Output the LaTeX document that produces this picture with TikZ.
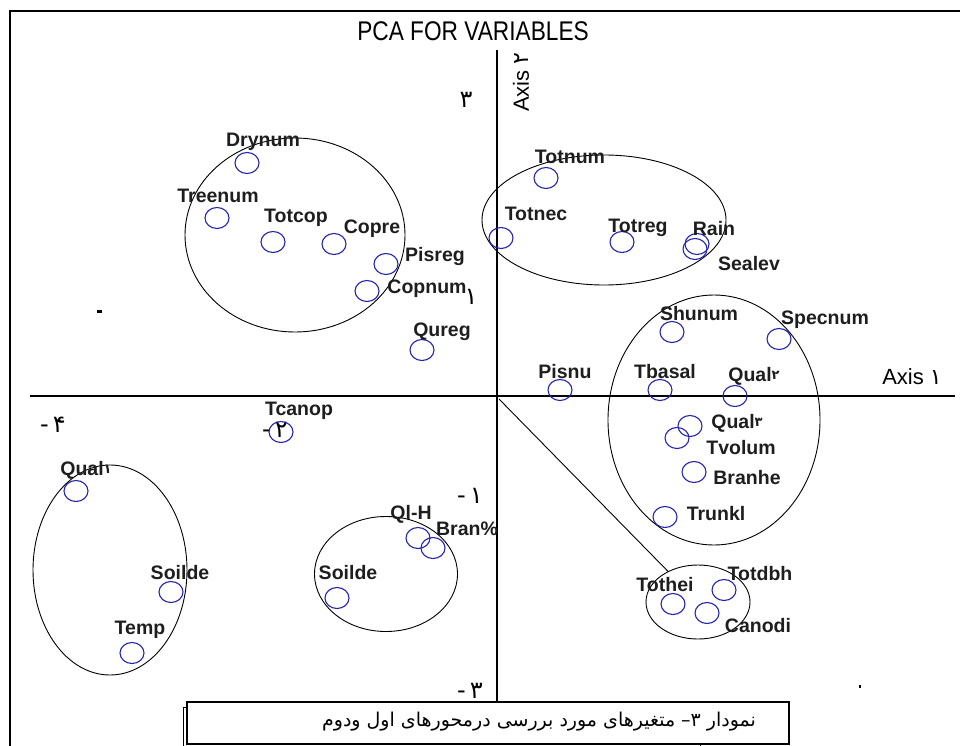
\documentclass[tikz,border=0pt]{standalone}
\usepackage{fontspec}
\setmainfont{Liberation Sans}
\newfontfamily\arabicfont[Script=Arabic]{DejaVu Sans}
\newfontfamily\digitfont{DejaVu Sans}
\TeXXeTstate=1
\usetikzlibrary{shapes.geometric}
\definecolor{ptblue}{RGB}{35,35,175}
\definecolor{lblcol}{RGB}{30,30,30}
\tikzset{
  pt/.style={draw=ptblue, line width=1.1pt, ellipse, minimum width=24pt, minimum height=21pt, inner sep=0pt},
  lbl/.style={font=\fontsize{19.5}{21}\selectfont\bfseries, inner sep=0pt, text=lblcol},
  grp/.style={draw=black, line width=0.9pt, ellipse, inner sep=0pt},
  tick/.style={font=\digitfont\fontsize{24}{26}\selectfont, inner sep=0pt},
  axlbl/.style={font=\fontsize{22}{24}\selectfont, inner sep=0pt},
  axisline/.style={draw=black, line width=1.2pt},
}
\newcommand{\pd}[1]{\raisebox{2pt}{\digitfont\fontsize{13}{14}\selectfont #1}}
\begin{document}
\begin{tikzpicture}[x=1pt,y=-1pt]
\useasboundingbox (0,0) rectangle (960,746);
\fill[white] (0,0) rectangle (960,746);
% frame
\coordinate (fbl) at (10,746);
\coordinate (ftl) at (10,11);
\coordinate (ftr) at (960,11);
\draw[line width=1.1pt] (fbl) -- (ftl) -- (ftr);
% title
\node[inner sep=0pt] (title) at (473,31) {\scalebox{0.84}[1]{\fontsize{27}{29}\selectfont PCA FOR VARIABLES}};
% axes
\coordinate (xl) at (30,396);
\coordinate (xr) at (955,396);
\coordinate (yt) at (497,50);
\coordinate (yb) at (497,702);
\coordinate (orig) at (499,399);
\draw[axisline] (xl) -- (xr);
\draw[axisline] (yt) -- (yb);
\node[axlbl] (ax1) at (912,377) {Axis \digitfont ۱};
\node[axlbl, rotate=90] (ax2) at (521,82) {Axis \digitfont ۲};
% ticks
\node[tick] (t3) at (466,100) {۳};
\node[tick] (tm4) at (53,425) {-\,۴};
\node[tick] (tm1) at (470,496) {-\,۱};
\node[tick] (tm3) at (470,691) {-\,۳};
\node[tick] (t1) at (471,297) {۱};
\node[tick] (tm2) at (275,430) {-\,۲};
\fill (97,310) rectangle (102,313);
\fill (496,425) rectangle (498,429);
\fill (859,685) rectangle (861,688);
% group ellipses
\node[grp, minimum width=220pt, minimum height=194pt] (g1) at (295,235) {};
\node[grp, minimum width=244pt, minimum height=130pt] (g2) at (604,220) {};
\node[grp, minimum width=212pt, minimum height=250pt] (g3) at (714,420) {};
\node[grp, minimum width=154pt, minimum height=210pt] (g4) at (110,570) {};
\node[grp, minimum width=143pt, minimum height=115pt] (g5) at (386,574) {};
\node[grp, minimum width=104pt, minimum height=74pt] (g6) at (698,602) {};
\draw[line width=0.9pt] (orig) -- (g6);
% points
\node[pt] (c1) at (247,163) {};
\node[pt] (c2) at (217,218) {};
\node[pt] (c3) at (273,242) {};
\node[pt] (c4) at (334,244) {};
\node[pt] (c5) at (386,264) {};
\node[pt] (c6) at (367,291) {};
\node[pt] (c7) at (422,350) {};
\node[pt] (c8) at (546,178) {};
\node[pt] (c9) at (501,238) {};
\node[pt] (c10) at (622,242) {};
\node[pt] (c11) at (697,244) {};
\node[pt] (c12) at (695,249) {};
\node[pt] (c13) at (672,332) {};
\node[pt] (c14) at (779,339) {};
\node[pt] (c15) at (560,390) {};
\node[pt] (c16) at (660,390) {};
\node[pt] (c17) at (735,396) {};
\node[pt] (c18) at (690,426) {};
\node[pt] (c19) at (677,438) {};
\node[pt] (c20) at (694,472) {};
\node[pt] (c21) at (665,517) {};
\node[pt] (c22) at (673,604) {};
\node[pt] (c23) at (724,590) {};
\node[pt] (c24) at (707,613) {};
\node[pt] (c25) at (281,432) {};
\node[pt] (c26) at (76,491) {};
\node[pt] (c27) at (171,592) {};
\node[pt] (c28) at (132,653) {};
\node[pt] (c29) at (337,598) {};
\node[pt] (c30) at (418,538) {};
\node[pt] (c31) at (433,548) {};
% labels
\node[lbl] (l1) at (263,142) {Drynum};
\node[lbl] (l2) at (218,196) {Treenum};
\node[lbl] (l3) at (296,218) {Totcop};
\node[lbl] (l4) at (372,229) {Copre};
\node[lbl] (l5) at (435,257) {Pisreg};
\node[lbl] (l6) at (427,289) {Copnum};
\node[lbl] (l7) at (442,332) {Qureg};
\node[lbl] (l8) at (570,157) {Totnum};
\node[lbl] (l9) at (536,214) {Totnec};
\node[lbl] (l10) at (638,228) {Totreg};
\node[lbl] (l11) at (714,229) {Rain};
\node[lbl] (l12) at (749,264) {Sealev};
\node[lbl] (l13) at (699,314) {Shunum};
\node[lbl] (l14) at (825,320) {Specnum};
\node[lbl] (l15) at (565,372) {Pisnu};
\node[lbl] (l16) at (665,372) {Tbasal};
\node[lbl] (l17) at (754,376) {Qual\pd{۲}};
\node[lbl] (l18) at (737,423) {Qual\pd{۳}};
\node[lbl] (l19) at (741,448) {Tvolum};
\node[lbl] (l20) at (747,478) {Branhe};
\node[lbl] (l21) at (716,514) {Trunkl};
\node[lbl] (l22) at (665,585) {Tothei};
\node[lbl] (l23) at (760,574) {Totdbh};
\node[lbl] (l24) at (758,626) {Canodi};
\node[lbl] (l25) at (299,411) {Tcanop};
\node[lbl] (l26) at (86,470) {Qual\pd{۱}};
\node[lbl] (l27) at (180,573) {Soilde};
\node[lbl] (l28) at (140,630) {Temp};
\node[lbl] (l29) at (348,573) {Soilde};
\node[lbl] (l30) at (411,514) {Ql-H};
\node[lbl] (l31) at (467,529) {Bran\%};
% caption
\draw[line width=1pt, fill=white] (183,707) rectangle (700,750);
\node[draw=black, line width=1.2pt, fill=white, minimum width=602pt, minimum height=42pt, inner sep=0pt] (cap) at (488,723) {};
\node[font=\arabicfont\fontsize{19}{21}\selectfont, inner sep=0pt] (captext) at (539,722) {\beginR نمودار ۳– متغیرهای مورد بررسی درمحورهای اول ودوم\endR};
\end{tikzpicture}
\end{document}
